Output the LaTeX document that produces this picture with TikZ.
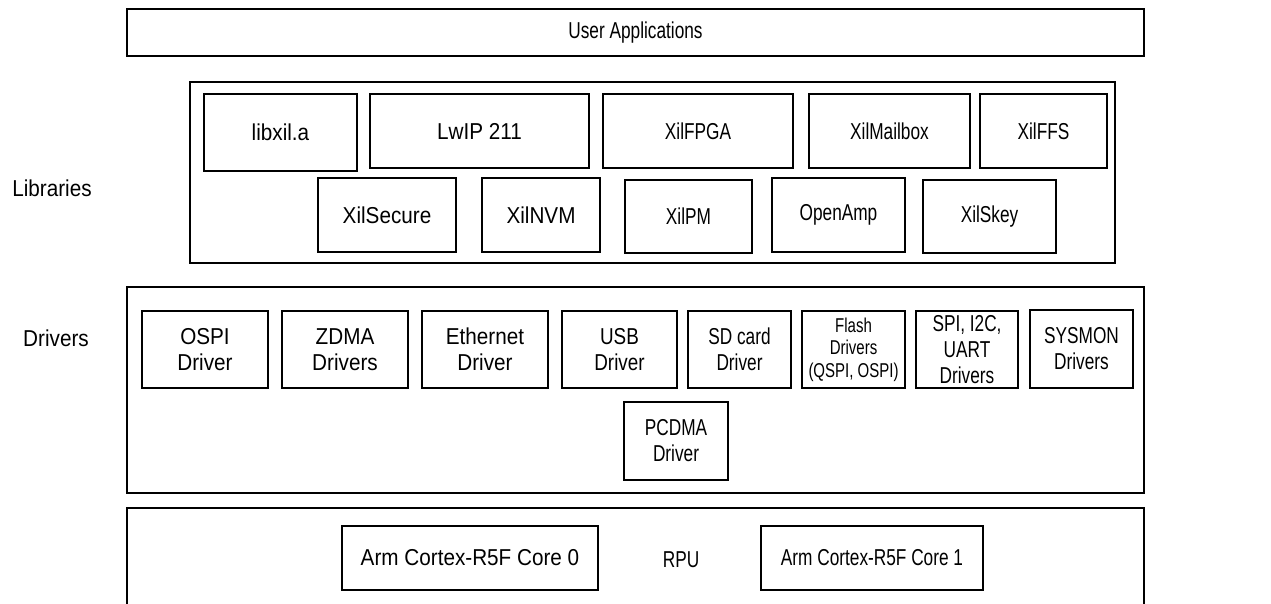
\documentclass[tikz,border=0pt]{standalone}
\usepackage{fontspec}
\setmainfont{Liberation Sans}
\newfontfamily\fnN[FakeStretch=0.9]{Liberation Sans}
\newfontfamily\fnM[FakeStretch=0.82]{Liberation Sans}
\newfontfamily\fnC[FakeStretch=0.75]{Liberation Sans}
\newcommand\fsN{\fnN\fontsize{23}{26}\selectfont}
\newcommand\fsM{\fnM\fontsize{23}{26}\selectfont}
\newcommand\fsC{\fnC\fontsize{23}{26}\selectfont}
\newcommand\fsS{\fnC\fontsize{20}{22.5}\selectfont}
\begin{document}
\begin{tikzpicture}[x=1pt,y=-1pt,
  box/.style={draw, line width=1.8pt, inner sep=0pt, align=center, font=\fsN},
  lab/.style={inner sep=0pt, align=center, font=\fsN}]
\clip (0,0) rectangle (1271,603);
\fill[white] (0,0) rectangle (1271,603);
% layers
\node[box, minimum width=1017pt, minimum height=47pt, font=\fsC] (user) at (635.5,32.5) {User Applications};
\node[box, minimum width=925pt, minimum height=181pt] (libs) at (652.5,172.5) {};
\node[box, minimum width=1017pt, minimum height=206pt] (drv) at (635.5,390) {};
\node[box, minimum width=1017pt, minimum height=107pt] (rpubox) at (635.5,561.5) {};
% side labels
\node[lab] (liblab) at (52,188) {Libraries};
\node[lab] (drvlab) at (56,338) {Drivers};
% libraries row 1
\node[box, minimum width=153pt, minimum height=77pt] (libxil) at (280.5,132.5) {libxil.a};
\node[box, minimum width=219pt, minimum height=74pt] (lwip) at (479.5,131) {LwIP 211};
\node[box, minimum width=190pt, minimum height=74pt, font=\fsC] (fpga) at (698,131) {XilFPGA};
\node[box, minimum width=161pt, minimum height=74pt, font=\fsC] (mailbox) at (889.5,131) {XilMailbox};
\node[box, minimum width=127pt, minimum height=74pt, font=\fsC] (ffs) at (1043.5,131) {XilFFS};
% libraries row 2
\node[box, minimum width=138pt, minimum height=74pt] (secure) at (387,215) {XilSecure};
\node[box, minimum width=118pt, minimum height=74pt] (nvm) at (541,215) {XilNVM};
\node[box, minimum width=127pt, minimum height=73pt, font=\fsC] (pm) at (688.5,216.5) {XilPM};
\node[box, minimum width=133pt, minimum height=74pt, font=\fsC] (openamp) at (838.5,215) {OpenAmp};
\node[box, minimum width=133pt, minimum height=73pt, font=\fsC] (skey) at (989.5,216.5) {XilSkey};
% drivers
\node[box, minimum width=126pt, minimum height=77pt] (ospi) at (205,349.5) {OSPI\\Driver};
\node[box, minimum width=126pt, minimum height=77pt] (zdma) at (345,349.5) {ZDMA\\Drivers};
\node[box, minimum width=126pt, minimum height=77pt] (eth) at (485,349.5) {Ethernet\\Driver};
\node[box, minimum width=115pt, minimum height=77pt, font=\fsM] (usb) at (619.5,349.5) {USB\\Driver};
\node[box, minimum width=103pt, minimum height=77pt, font=\fsC] (sd) at (739.5,349.5) {SD card\\Driver};
\node[box, minimum width=103pt, minimum height=77pt, font=\fsS] (flash) at (853.5,349.5) {Flash\\Drivers\\(QSPI, OSPI)};
\node[box, minimum width=102pt, minimum height=77pt, font=\fsC] (spi) at (967,349.5) {SPI, I2C,\\UART\\Drivers};
\node[box, minimum width=103pt, minimum height=78pt, font=\fsC] (sysmon) at (1081.5,349) {SYSMON\\Drivers};
\node[box, minimum width=104pt, minimum height=78pt, font=\fsC] (pcdma) at (676,441) {PCDMA\\Driver};
% RPU
\node[box, minimum width=256pt, minimum height=64pt] (core0) at (470,558) {Arm Cortex-R5F Core 0};
\node[lab, font=\fsC] (rpu) at (681,559.5) {RPU};
\node[box, minimum width=222pt, minimum height=64pt, font=\fsC] (core1) at (872,558) {Arm Cortex-R5F Core 1};
\end{tikzpicture}
\end{document}
